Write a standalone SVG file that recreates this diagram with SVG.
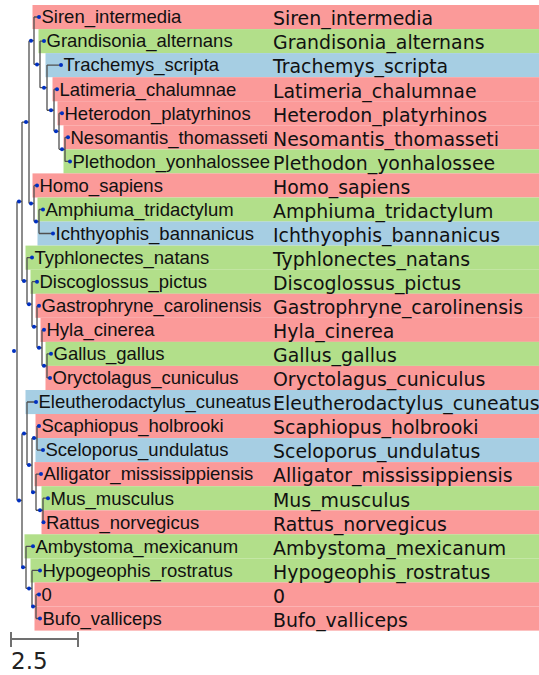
<svg xmlns="http://www.w3.org/2000/svg" width="539" height="675" viewBox="0 0 539 675">
<style>
.r{fill:#fb9a99}.g{fill:#b2df8a}.b{fill:#a6cee3}
.e{fill:none;stroke:#505050;stroke-width:1.3}
.d{fill:#0030c1}
.n{font-family:"Liberation Sans",Arial,sans-serif;font-size:18.5px;fill:#111}
.a{font-family:"DejaVu Sans",Verdana,sans-serif;font-size:18.9px;fill:#111}
.s{fill:none;stroke:#707070;stroke-width:2}
</style>
<rect width="539" height="675" fill="#fff"/>
<g id="backgrounds">
<rect class="r" x="32.5" y="5" width="506.5" height="24.1"/>
<rect class="g" x="38.5" y="29.1" width="500.5" height="24.1"/>
<rect class="b" x="45.5" y="53.1" width="493.5" height="24.1"/>
<rect class="r" x="52.5" y="77.2" width="486.5" height="24.1"/>
<rect class="r" x="57.5" y="101.2" width="481.5" height="24.1"/>
<rect class="r" x="63.5" y="125.3" width="475.5" height="24.1"/>
<rect class="g" x="63.5" y="149.4" width="475.5" height="24.1"/>
<rect class="r" x="32.5" y="173.4" width="506.5" height="24.1"/>
<rect class="g" x="37.5" y="197.5" width="501.5" height="24.1"/>
<rect class="b" x="37.5" y="221.5" width="501.5" height="24.1"/>
<rect class="g" x="25.5" y="245.6" width="513.5" height="24.1"/>
<rect class="g" x="30.5" y="269.7" width="508.5" height="24.1"/>
<rect class="r" x="35.5" y="293.7" width="503.5" height="24.1"/>
<rect class="r" x="40.5" y="317.8" width="498.5" height="24.1"/>
<rect class="g" x="45.5" y="341.8" width="493.5" height="24.1"/>
<rect class="r" x="45.5" y="365.9" width="493.5" height="24.1"/>
<rect class="b" x="25.5" y="390" width="513.5" height="24.1"/>
<rect class="r" x="35.5" y="414" width="503.5" height="24.1"/>
<rect class="b" x="35.5" y="438.1" width="503.5" height="24.1"/>
<rect class="r" x="34.5" y="462.1" width="504.5" height="24.1"/>
<rect class="g" x="41.5" y="486.2" width="497.5" height="24.1"/>
<rect class="r" x="41.5" y="510.3" width="497.5" height="24.1"/>
<rect class="g" x="24.5" y="534.3" width="514.5" height="24.1"/>
<rect class="g" x="30.5" y="558.4" width="508.5" height="24.1"/>
<rect class="r" x="34.5" y="582.4" width="504.5" height="24.1"/>
<rect class="r" x="34.5" y="606.5" width="504.5" height="24.1"/>
</g>
<g id="connectors">
<path class="e" d="M17 201.5V500.45M17 201.5H22M17 500.45H22
M22 122.1V280.9M22 122.1H29M22 280.9H27
M29 40.7V203.45M29 40.7H34M29 203.45H34
M34 17V64.4M34 17H39M34 64.4H40
M40 41.1V87.7M40 41.1H44M40 87.7H47
M47 65.1V110.25M47 65.1H61M47 110.25H54
M54 89.2V131.3M54 89.2H57M54 131.3H59
M59 113.2V149.35M59 113.2H62M59 149.35H65
M65 137.3V161.4M65 137.3H68M65 161.4H70
M34 185.4V221.5M34 185.4H37M34 221.5H39
M39 209.5V233.5M39 209.5H43M39 233.5H53
M27 257.6V304.2M27 257.6H32M27 304.2H32
M32 281.7V326.75M32 281.7H37M32 326.75H37
M37 305.7V347.8M37 305.7H39M37 347.8H42
M42 329.8V365.85M42 329.8H44M42 365.85H47
M47 353.8V377.9M47 353.8H51M47 377.9H50
M22 433.55V567.35M22 433.55H27M22 567.35H26
M27 402V465.1M27 402H36M27 465.1H32
M32 438.05V492.2M32 438.05H37M32 492.2H36
M37 426V450.1M37 426H39M37 450.1H43
M36 474.1V510.25M36 474.1H41M36 510.25H43
M43 498.2V522.3M43 498.2H48M43 522.3H43.5
M26 546.3V588.4M26 546.3H33M26 588.4H32
M32 570.4V606.45M32 570.4H40M32 606.45H36
M36 594.4V618.5M36 594.4H39M36 618.5H40"/>
</g>
<g id="internal-nodes">
<circle id="n_O" class="d" cx="14" cy="351" r="2"/>
<circle id="n_J" class="d" cx="19" cy="201.5" r="2"/>
<circle id="n_G" class="d" cx="26" cy="122.1" r="2"/>
<circle id="n_A" class="d" cx="31" cy="40.7" r="2"/>
<circle id="n_B" class="d" cx="37" cy="64.4" r="2"/>
<circle id="n_C" class="d" cx="44" cy="87.7" r="2"/>
<circle id="n_D" class="d" cx="51" cy="110.25" r="2"/>
<circle id="n_E" class="d" cx="56" cy="131.3" r="2"/>
<circle id="n_F" class="d" cx="62" cy="149.35" r="2"/>
<circle id="n_H" class="d" cx="31" cy="203.45" r="2"/>
<circle id="n_I" class="d" cx="36" cy="221.5" r="2"/>
<circle id="n_K" class="d" cx="24" cy="280.9" r="2"/>
<circle id="n_L" class="d" cx="29" cy="304.2" r="2"/>
<circle id="n_M" class="d" cx="34" cy="326.75" r="2"/>
<circle id="n_N" class="d" cx="39" cy="347.8" r="2"/>
<circle id="n_P" class="d" cx="44" cy="365.85" r="2"/>
<circle id="n_S" class="d" cx="19" cy="500.45" r="2"/>
<circle id="n_Q" class="d" cx="24" cy="433.55" r="2"/>
<circle id="n_T" class="d" cx="29" cy="465.1" r="2"/>
<circle id="n_R" class="d" cx="34" cy="438.05" r="2"/>
<circle id="n_U" class="d" cx="33" cy="492.2" r="2"/>
<circle id="n_V" class="d" cx="40" cy="510.25" r="2"/>
<circle id="n_W" class="d" cx="23" cy="567.35" r="2"/>
<circle id="n_X" class="d" cx="29" cy="588.4" r="2"/>
<circle id="n_Y" class="d" cx="33" cy="606.45" r="2"/>
</g>
<g id="leaf-Siren_intermedia"><circle class="d" cx="39" cy="17" r="2"/><text class="n" x="41.5" y="23.3">Siren_intermedia</text><text class="a" x="273" y="25.3">Siren_intermedia</text></g>
<g id="leaf-Grandisonia_alternans"><circle class="d" cx="44" cy="41.1" r="2"/><text class="n" x="46.5" y="47.4">Grandisonia_alternans</text><text class="a" x="273" y="49.4">Grandisonia_alternans</text></g>
<g id="leaf-Trachemys_scripta"><circle class="d" cx="61" cy="65.1" r="2"/><text class="n" x="63.5" y="71.4">Trachemys_scripta</text><text class="a" x="273" y="73.4">Trachemys_scripta</text></g>
<g id="leaf-Latimeria_chalumnae"><circle class="d" cx="57" cy="89.2" r="2"/><text class="n" x="59.5" y="95.5">Latimeria_chalumnae</text><text class="a" x="273" y="97.5">Latimeria_chalumnae</text></g>
<g id="leaf-Heterodon_platyrhinos"><circle class="d" cx="62" cy="113.2" r="2"/><text class="n" x="64.5" y="119.5">Heterodon_platyrhinos</text><text class="a" x="273" y="121.5">Heterodon_platyrhinos</text></g>
<g id="leaf-Nesomantis_thomasseti"><circle class="d" cx="68" cy="137.3" r="2"/><text class="n" x="70.5" y="143.6">Nesomantis_thomasseti</text><text class="a" x="273" y="145.6">Nesomantis_thomasseti</text></g>
<g id="leaf-Plethodon_yonhalossee"><circle class="d" cx="70" cy="161.4" r="2"/><text class="n" x="72.5" y="167.7">Plethodon_yonhalossee</text><text class="a" x="273" y="169.7">Plethodon_yonhalossee</text></g>
<g id="leaf-Homo_sapiens"><circle class="d" cx="37" cy="185.4" r="2"/><text class="n" x="39.5" y="191.7">Homo_sapiens</text><text class="a" x="273" y="193.7">Homo_sapiens</text></g>
<g id="leaf-Amphiuma_tridactylum"><circle class="d" cx="43" cy="209.5" r="2"/><text class="n" x="45.5" y="215.8">Amphiuma_tridactylum</text><text class="a" x="273" y="217.8">Amphiuma_tridactylum</text></g>
<g id="leaf-Ichthyophis_bannanicus"><circle class="d" cx="53" cy="233.5" r="2"/><text class="n" x="55.5" y="239.8">Ichthyophis_bannanicus</text><text class="a" x="273" y="241.8">Ichthyophis_bannanicus</text></g>
<g id="leaf-Typhlonectes_natans"><circle class="d" cx="32" cy="257.6" r="2"/><text class="n" x="34.5" y="263.9">Typhlonectes_natans</text><text class="a" x="273" y="265.9">Typhlonectes_natans</text></g>
<g id="leaf-Discoglossus_pictus"><circle class="d" cx="37" cy="281.7" r="2"/><text class="n" x="39.5" y="288">Discoglossus_pictus</text><text class="a" x="273" y="290">Discoglossus_pictus</text></g>
<g id="leaf-Gastrophryne_carolinensis"><circle class="d" cx="39" cy="305.7" r="2"/><text class="n" x="41.5" y="312">Gastrophryne_carolinensis</text><text class="a" x="273" y="314">Gastrophryne_carolinensis</text></g>
<g id="leaf-Hyla_cinerea"><circle class="d" cx="44" cy="329.8" r="2"/><text class="n" x="46.5" y="336.1">Hyla_cinerea</text><text class="a" x="273" y="338.1">Hyla_cinerea</text></g>
<g id="leaf-Gallus_gallus"><circle class="d" cx="51" cy="353.8" r="2"/><text class="n" x="53.5" y="360.1">Gallus_gallus</text><text class="a" x="273" y="362.1">Gallus_gallus</text></g>
<g id="leaf-Oryctolagus_cuniculus"><circle class="d" cx="50" cy="377.9" r="2"/><text class="n" x="52.5" y="384.2">Oryctolagus_cuniculus</text><text class="a" x="273" y="386.2">Oryctolagus_cuniculus</text></g>
<g id="leaf-Eleutherodactylus_cuneatus"><circle class="d" cx="36" cy="402" r="2"/><text class="n" x="38.5" y="408.3">Eleutherodactylus_cuneatus</text><text class="a" x="273" y="410.3">Eleutherodactylus_cuneatus</text></g>
<g id="leaf-Scaphiopus_holbrooki"><circle class="d" cx="39" cy="426" r="2"/><text class="n" x="41.5" y="432.3">Scaphiopus_holbrooki</text><text class="a" x="273" y="434.3">Scaphiopus_holbrooki</text></g>
<g id="leaf-Sceloporus_undulatus"><circle class="d" cx="43" cy="450.1" r="2"/><text class="n" x="45.5" y="456.4">Sceloporus_undulatus</text><text class="a" x="273" y="458.4">Sceloporus_undulatus</text></g>
<g id="leaf-Alligator_mississippiensis"><circle class="d" cx="41" cy="474.1" r="2"/><text class="n" x="43.5" y="480.4">Alligator_mississippiensis</text><text class="a" x="273" y="482.4">Alligator_mississippiensis</text></g>
<g id="leaf-Mus_musculus"><circle class="d" cx="48" cy="498.2" r="2"/><text class="n" x="50.5" y="504.5">Mus_musculus</text><text class="a" x="273" y="506.5">Mus_musculus</text></g>
<g id="leaf-Rattus_norvegicus"><circle class="d" cx="43.5" cy="522.3" r="2"/><text class="n" x="46" y="528.6">Rattus_norvegicus</text><text class="a" x="273" y="530.6">Rattus_norvegicus</text></g>
<g id="leaf-Ambystoma_mexicanum"><circle class="d" cx="33" cy="546.3" r="2"/><text class="n" x="35.5" y="552.6">Ambystoma_mexicanum</text><text class="a" x="273" y="554.6">Ambystoma_mexicanum</text></g>
<g id="leaf-Hypogeophis_rostratus"><circle class="d" cx="40" cy="570.4" r="2"/><text class="n" x="42.5" y="576.7">Hypogeophis_rostratus</text><text class="a" x="273" y="578.7">Hypogeophis_rostratus</text></g>
<g id="leaf-0"><circle class="d" cx="39" cy="594.4" r="2"/><text class="n" x="41.5" y="600.7">0</text><text class="a" x="273" y="602.7">0</text></g>
<g id="leaf-Bufo_valliceps"><circle class="d" cx="40" cy="618.5" r="2"/><text class="n" x="42.5" y="624.8">Bufo_valliceps</text><text class="a" x="273" y="626.8">Bufo_valliceps</text></g>
<g id="scale">
<path class="s" d="M11 639H78M11 632V647M78 632V647"/>
<text x="11" y="669" style="font-family:'DejaVu Sans',Verdana,sans-serif;font-size:23px;fill:#222">2.5</text>
</g>
</svg>
